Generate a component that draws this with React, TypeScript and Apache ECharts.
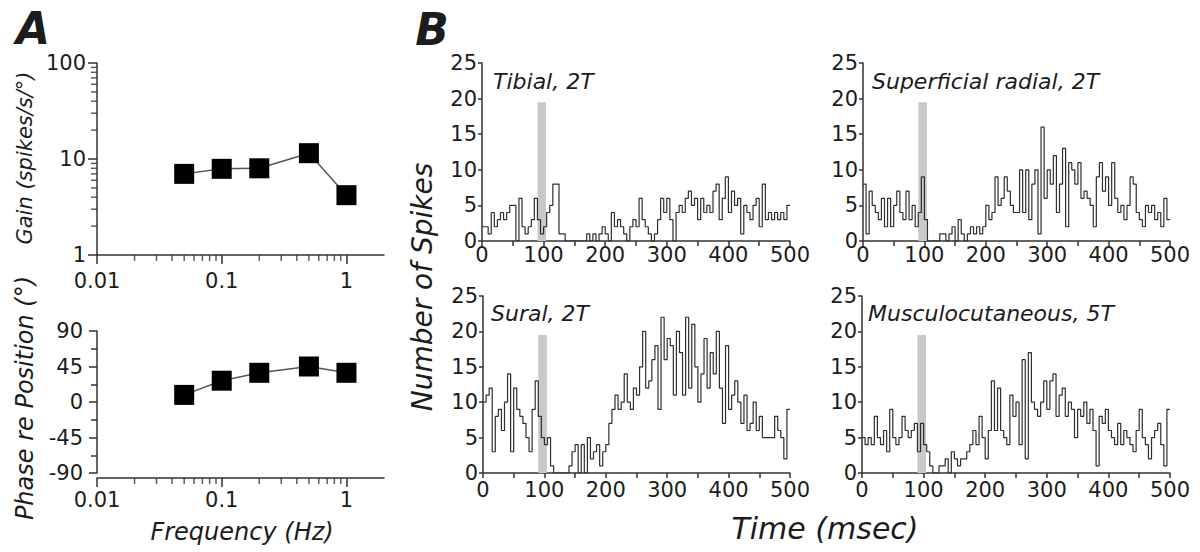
import React, { useEffect, useRef } from "react";
import * as echarts from "echarts";

// ---------- Panel A data ----------
const FREQ = [0.05, 0.1, 0.2, 0.5, 1];
const GAIN = [7.0, 7.9, 8.0, 11.5, 4.2];
const PHASE = [9, 27, 37, 45, 37];
const X_MINOR_TICKS = [0.02, 0.03, 0.04, 0.05, 0.06, 0.07, 0.08, 0.09, 0.2, 0.3, 0.4, 0.5, 0.6, 0.7, 0.8, 0.9];
const GAIN_MINOR_TICKS = [2, 3, 4, 5, 6, 7, 8, 9, 20, 30, 40, 50, 60, 70, 80, 90];

// ---------- Panel B data (5 ms bins, 0..500 ms) ----------
const BIN_WIDTH = 5;
const TIME_MAX = 500;
const STIM_START = 90;
const STIM_END = 104;
const STIM_HEIGHT = 19.5;

const TIBIAL = [
  2, 2, 1, 4, 2, 3, 4, 3, 4, 5,
  5, 0, 6, 2, 1, 2, 3, 6, 3, 1,
  2, 4, 5, 8, 8, 1, 1, 0, 0, 0,
  0, 0, 0, 0, 1, 0, 1, 0, 1, 2,
  1, 0, 4, 2, 3, 2, 1, 0, 2, 3,
  2, 6, 3, 2, 1, 0, 1, 3, 6, 4,
  6, 3, 0, 4, 5, 4, 6, 7, 5, 6,
  3, 6, 4, 5, 4, 7, 8, 3, 6, 9,
  4, 7, 5, 6, 1, 5, 4, 3, 5, 6,
  2, 8, 3, 4, 3, 4, 3, 4, 3, 5,
];
const SUPERFICIAL_RADIAL = [
  8, 1, 7, 5, 4, 3, 6, 2, 6, 2,
  5, 7, 4, 3, 7, 3, 5, 2, 4, 9,
  3, 0, 0, 0, 0, 1, 1, 0, 1, 2,
  0, 3, 1, 0, 1, 2, 1, 2, 1, 2,
  5, 3, 4, 9, 5, 6, 9, 7, 5, 4,
  4, 10, 4, 10, 3, 8, 10, 1, 16, 6,
  10, 8, 12, 4, 8, 13, 2, 11, 10, 8,
  11, 6, 7, 6, 5, 2, 9, 11, 7, 9,
  5, 11, 6, 4, 5, 3, 5, 9, 8, 4,
  3, 2, 5, 4, 5, 3, 4, 2, 6, 3,
];
const SURAL = [
  10, 11, 12, 3, 8, 9, 6, 10, 14, 3,
  12, 9, 8, 7, 5, 3, 9, 13, 8, 5,
  4, 5, 1, 0, 0, 0, 0, 0, 1, 3,
  4, 0, 4, 0, 5, 2, 3, 4, 1, 3,
  4, 7, 9, 11, 9, 10, 14, 10, 9, 12,
  11, 15, 20, 12, 13, 16, 18, 9, 22, 16,
  19, 18, 11, 20, 17, 11, 22, 12, 21, 15,
  10, 14, 19, 12, 17, 14, 20, 12, 7, 18,
  9, 11, 13, 10, 7, 11, 6, 7, 10, 6,
  8, 5, 5, 5, 5, 8, 6, 5, 2, 9,
];
const MUSCULOCUTANEOUS = [
  5, 4, 5, 4, 8, 5, 4, 6, 3, 9,
  5, 4, 5, 8, 6, 5, 6, 7, 3, 7,
  4, 3, 1, 0, 0, 1, 1, 2, 0, 3,
  2, 1, 2, 2, 3, 4, 6, 4, 8, 5,
  2, 6, 13, 6, 12, 6, 5, 4, 11, 8,
  10, 4, 16, 2, 17, 10, 9, 8, 10, 13,
  9, 13, 14, 8, 11, 12, 8, 10, 9, 5,
  9, 8, 10, 7, 9, 6, 1, 8, 7, 9,
  6, 5, 4, 7, 4, 6, 5, 4, 3, 6,
  9, 5, 4, 2, 5, 6, 7, 4, 1, 9,
];
const PANEL_TITLES = ["Tibial, 2T", "Superficial radial, 2T", "Sural, 2T", "Musculocutaneous, 5T"];
const PANEL_DATA = [TIBIAL, SUPERFICIAL_RADIAL, SURAL, MUSCULOCUTANEOUS];

const FONT = "DejaVu Sans";
const AXIS_COLOR = "#333";
const TEXT_COLOR = "#1c1c1c";

function histData(values: number[]) {
  const pts: number[][] = values.map((v, i) => [i * BIN_WIDTH, v]);
  pts.push([TIME_MAX, values[values.length - 1]]);
  return pts;
}

const axisLine = { show: true, onZero: false, lineStyle: { color: AXIS_COLOR, width: 1.5 } };
const tickStyle = { color: AXIS_COLOR, width: 1.5 };
const labelBase = { fontFamily: FONT, fontSize: 21, color: TEXT_COLOR };

// minor tick marks drawn as thin rect symbols positioned by the axes
function minorTicks(xAxisIndex: number, yAxisIndex: number, data: number[][], dir: string, len: number, off: number) {
  return {
    type: "scatter",
    xAxisIndex,
    yAxisIndex,
    clip: false,
    silent: true,
    z: 5,
    data,
    symbol: "rect",
    symbolSize: dir === "down" ? [1.5, len] : [len, 1.5],
    symbolOffset: dir === "down" ? [0, off + len / 2] : [-(off + len / 2), 0],
    itemStyle: { color: AXIS_COLOR },
  };
}

export default function App() {
  const ref = useRef<HTMLDivElement>(null);
  useEffect(() => {
    if (!ref.current) return;
    const chart = echarts.init(ref.current, undefined, { renderer: "svg" });

    const bGrids = [
      { left: 482, top: 63, width: 308, height: 178 },
      { left: 863, top: 63, width: 307, height: 178 },
      { left: 483, top: 296, width: 307, height: 177 },
      { left: 862, top: 296, width: 308, height: 177 },
    ];
    const grids = [
      { left: 97, top: 63, width: 287, height: 192 },
      { left: 97, top: 331, width: 287, height: 142 },
      ...bGrids,
    ];

    const xAxes: any[] = [
      {
        type: "log", logBase: 10, gridIndex: 0, min: 0.01, max: 2,
        axisLine, axisTick: { show: true, length: 9, lineStyle: tickStyle },
        splitLine: { show: false }, minorTick: { show: false }, minorSplitLine: { show: false },
        axisLabel: { ...labelBase, margin: 15, showMaxLabel: false },
      },
      {
        type: "log", logBase: 10, gridIndex: 1, min: 0.01, max: 2, offset: 5,
        axisLine, axisTick: { show: true, length: 9, lineStyle: tickStyle },
        splitLine: { show: false }, minorTick: { show: false }, minorSplitLine: { show: false },
        axisLabel: { ...labelBase, margin: 11, showMaxLabel: false },
      },
    ];
    const yAxes: any[] = [
      {
        type: "log", logBase: 10, gridIndex: 0, min: 1, max: 100,
        axisLine, axisTick: { show: true, length: 9, lineStyle: tickStyle },
        splitLine: { show: false }, minorTick: { show: false },
        axisLabel: { ...labelBase, margin: 11 },
      },
      {
        type: "value", gridIndex: 1, min: -90, max: 90, interval: 45,
        axisLine, axisTick: { show: true, length: 8, lineStyle: tickStyle },
        minorTick: { show: true, splitNumber: 2, length: 6, lineStyle: tickStyle },
        splitLine: { show: false }, minorSplitLine: { show: false },
        axisLabel: { ...labelBase, margin: 14 },
      },
    ];
    bGrids.forEach((_, i) => {
      xAxes.push({
        type: "value", gridIndex: i + 2, min: 0, max: TIME_MAX, interval: 100,
        axisLine, axisTick: { show: true, length: 5, lineStyle: tickStyle },
        minorTick: { show: true, splitNumber: 2, length: 5, lineStyle: tickStyle },
        splitLine: { show: false }, minorSplitLine: { show: false },
        axisLabel: { ...labelBase, margin: i < 2 ? 3 : 6 },
      });
      yAxes.push({
        type: "value", gridIndex: i + 2, min: 0, max: 25, interval: 5,
        axisLine, axisTick: { show: true, length: 4, lineStyle: tickStyle },
        splitLine: { show: false },
        axisLabel: { ...labelBase, margin: 5 },
      });
    });

    const series: any[] = [
      {
        type: "line", xAxisIndex: 0, yAxisIndex: 0,
        data: FREQ.map((f, i) => [f, GAIN[i]]),
        symbol: "rect", symbolSize: 20, showSymbol: true,
        itemStyle: { color: "#000" }, lineStyle: { color: "#555", width: 1.5 }, z: 10,
      },
      {
        type: "line", xAxisIndex: 1, yAxisIndex: 1,
        data: FREQ.map((f, i) => [f, PHASE[i]]),
        symbol: "rect", symbolSize: 20, showSymbol: true,
        itemStyle: { color: "#000" }, lineStyle: { color: "#555", width: 1.5 }, z: 10,
      },
      minorTicks(0, 0, X_MINOR_TICKS.map((v) => [v, 1]), "down", 6, 0),
      minorTicks(0, 0, GAIN_MINOR_TICKS.map((v) => [0.01, v]), "left", 6, 0),
      minorTicks(1, 1, X_MINOR_TICKS.map((v) => [v, -90]), "down", 6, 5),
    ];
    PANEL_DATA.forEach((vals, i) => {
      series.push({
        type: "line", xAxisIndex: i + 2, yAxisIndex: i + 2,
        data: histData(vals), step: "end", showSymbol: false, symbol: "none",
        lineStyle: { color: "#2e2e2e", width: 1.2 },
        markArea: {
          silent: true,
          itemStyle: { color: "#c9c9c9" },
          data: [[{ coord: [STIM_START, 0] }, { coord: [STIM_END, STIM_HEIGHT] }]],
        },
      });
    });

    const txt = (text: string, x: number, y: number, size: number, opts: any = {}) => ({
      type: "text",
      x, y,
      rotation: opts.rotation || 0,
      style: {
        text,
        fontFamily: FONT,
        fontSize: size,
        fontStyle: opts.fontStyle || "italic",
        fontWeight: opts.fontWeight || "normal",
        fill: TEXT_COLOR,
        align: opts.align || "center",
        verticalAlign: "middle",
      },
    });

    const titlePos = [
      [493, 81], [872, 81], [491, 313], [868, 313],
    ];

    chart.setOption({
      animation: false,
      backgroundColor: "#fff",
      grid: grids.map((g) => ({ ...g, containLabel: false })),
      xAxis: xAxes,
      yAxis: yAxes,
      series,
      graphic: [
        txt("A", 33, 28, 44, { fontWeight: "bold" }),
        txt("B", 432, 29, 44, { fontWeight: "bold" }),
        txt("Gain (spikes/s/°)", 25, 158, 21, { rotation: Math.PI / 2 }),
        txt("Phase re Position (°)", 25, 398, 24, { rotation: Math.PI / 2 }),
        txt("Frequency (Hz)", 242, 532, 24),
        txt("Number of Spikes", 422, 287, 28, { rotation: Math.PI / 2 }),
        txt("Time (msec)", 825, 528, 30),
        ...PANEL_TITLES.map((t, i) => txt(t, titlePos[i][0], titlePos[i][1], 22, { align: "left" })),
      ],
    });
    return () => chart.dispose();
  }, []);
  return (
    <div
      ref={ref}
      style={{ position: "absolute", left: 0, top: 0, width: 1200, height: 552, background: "#fff" }}
    />
  );
}
